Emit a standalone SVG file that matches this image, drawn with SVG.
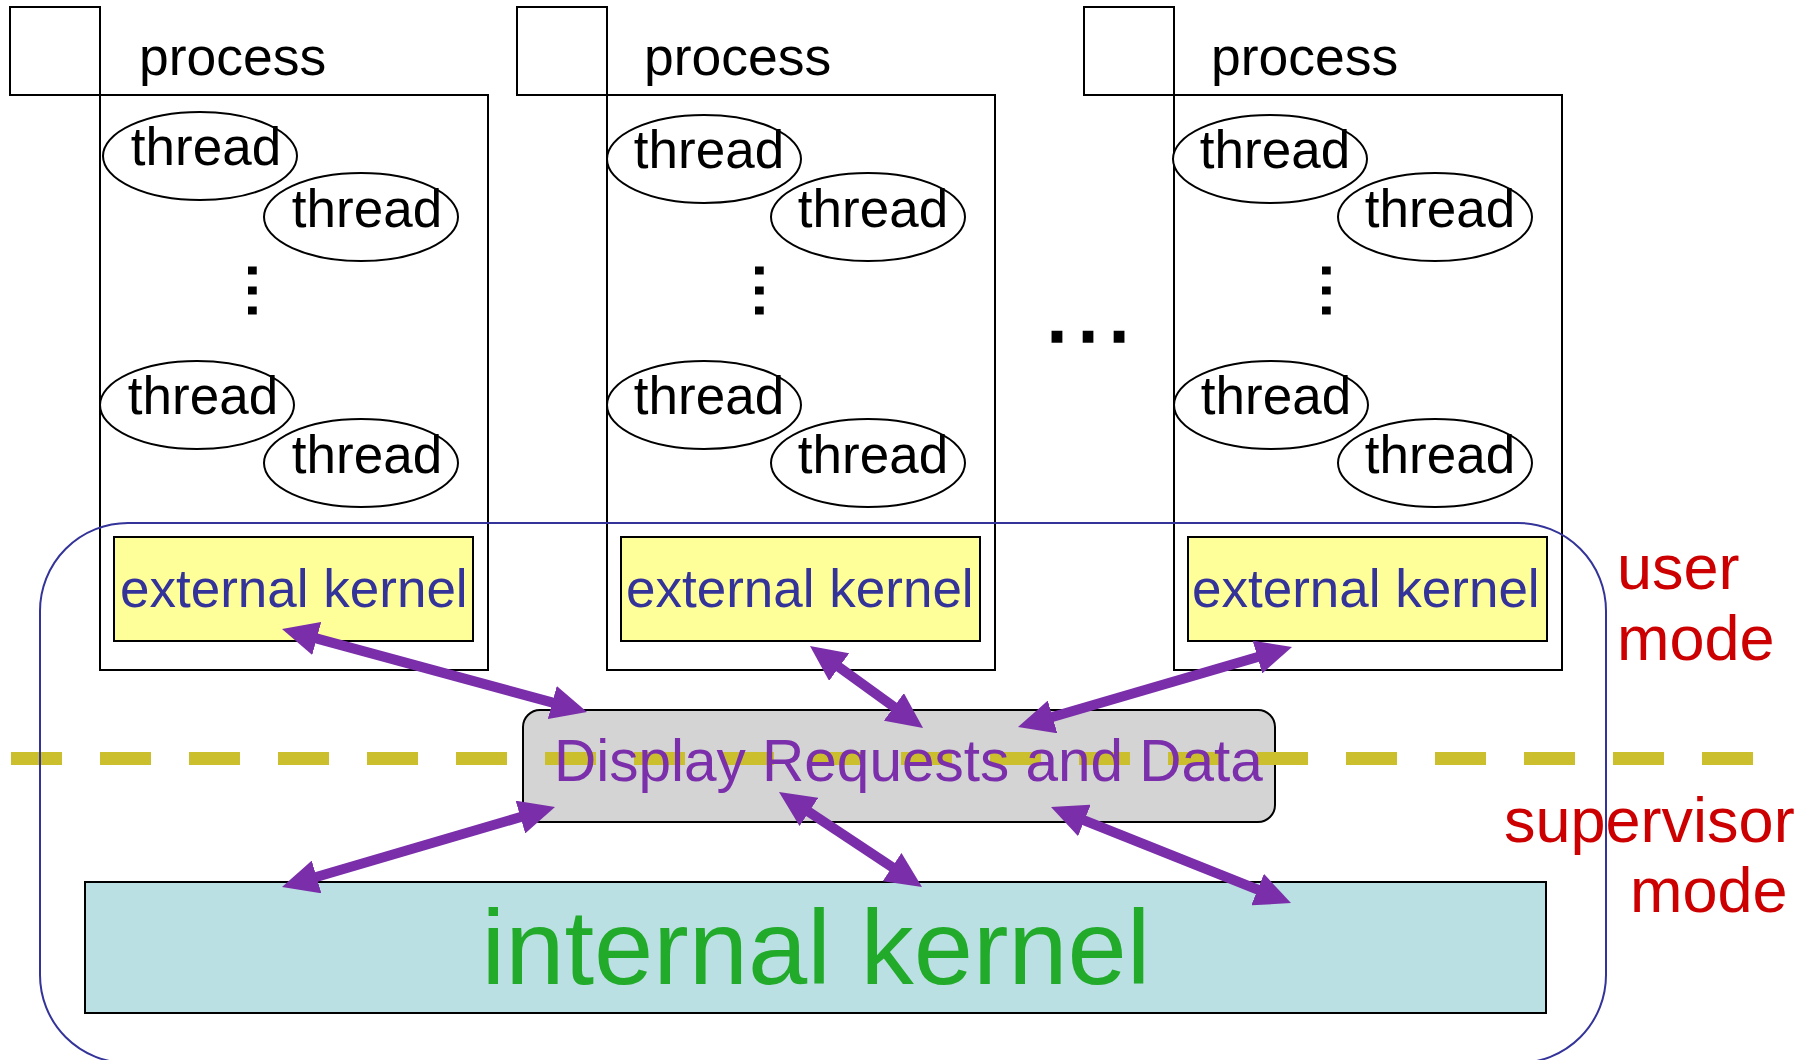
<svg xmlns="http://www.w3.org/2000/svg" width="1810" height="1060" viewBox="0 0 1810 1060">
  <style>
    text { font-family: "Liberation Sans", Arial, sans-serif; }
    .box { fill: #ffffff; stroke: #000000; stroke-width: 2; }
    .tab { fill: none; stroke: #000000; stroke-width: 2; }
    .thr { fill: #ffffff; stroke: #000000; stroke-width: 2; }
    .thr-t { font-size: 53px; fill: #000000; text-anchor: middle; }
    .proc-t { font-size: 53.5px; fill: #000000; }
    .ext { fill: #ffff99; stroke: #000000; stroke-width: 2; }
    .ext-t { font-size: 53px; fill: #333399; }
    .dots { font-size: 63px; fill: #000000; stroke: #000000; stroke-width: 2; }
    .mode-t { font-size: 63px; fill: #cc0000; }
    .conn { stroke: #7a2eaa; stroke-width: 10; fill: none; marker-start: url(#head); marker-end: url(#head); }
  </style>
  <defs>
    <marker id="head" viewBox="0 0 36 34" refX="11" refY="17" markerWidth="36" markerHeight="34" markerUnits="userSpaceOnUse" orient="auto-start-reverse">
      <path d="M0,0 L36,17 L0,34 z" fill="#7a2eaa"/>
    </marker>
  </defs>

  <rect width="1810" height="1060" fill="#ffffff"/>

  <!-- process 1 -->
  <g id="process1">
    <rect class="tab" x="10" y="7" width="90" height="88"/>
    <rect class="box" x="100" y="95" width="388" height="575"/>
    <text class="proc-t" x="139" y="75">process</text>
    <ellipse class="thr" cx="200" cy="156" rx="97" ry="44"/>
    <text class="thr-t" x="206" y="165">thread</text>
    <ellipse class="thr" cx="361" cy="217" rx="97" ry="44"/>
    <text class="thr-t" x="367" y="227">thread</text>
    <text class="dots" transform="translate(248,266) rotate(90)" x="-7" y="-1">…</text>
    <ellipse class="thr" cx="197" cy="405" rx="97" ry="44"/>
    <text class="thr-t" x="203" y="414">thread</text>
    <ellipse class="thr" cx="361" cy="463" rx="97" ry="44"/>
    <text class="thr-t" x="367" y="473">thread</text>
    <rect class="ext" x="114" y="537" width="359" height="104"/>
    <text class="ext-t" x="120" y="607">external kernel</text>
  </g>

  <!-- process 2 -->
  <g id="process2">
    <rect class="tab" x="517" y="7" width="90" height="88"/>
    <rect class="box" x="607" y="95" width="388" height="575"/>
    <text class="proc-t" x="644" y="75">process</text>
    <ellipse class="thr" cx="704" cy="159" rx="97" ry="44"/>
    <text class="thr-t" x="709" y="168">thread</text>
    <ellipse class="thr" cx="868" cy="217" rx="97" ry="44"/>
    <text class="thr-t" x="873" y="227">thread</text>
    <text class="dots" transform="translate(755,266) rotate(90)" x="-7" y="-1">…</text>
    <ellipse class="thr" cx="704" cy="405" rx="97" ry="44"/>
    <text class="thr-t" x="709" y="414">thread</text>
    <ellipse class="thr" cx="868" cy="463" rx="97" ry="44"/>
    <text class="thr-t" x="873" y="473">thread</text>
    <rect class="ext" x="621" y="537" width="359" height="104"/>
    <text class="ext-t" x="626" y="607">external kernel</text>
  </g>

  <!-- process 3 -->
  <g id="process3">
    <rect class="tab" x="1084" y="7" width="90" height="88"/>
    <rect class="box" x="1174" y="95" width="388" height="575"/>
    <text class="proc-t" x="1211" y="75">process</text>
    <ellipse class="thr" cx="1270" cy="159" rx="97" ry="44"/>
    <text class="thr-t" x="1275" y="168">thread</text>
    <ellipse class="thr" cx="1435" cy="217" rx="97" ry="44"/>
    <text class="thr-t" x="1440" y="227">thread</text>
    <text class="dots" transform="translate(1322,266) rotate(90)" x="-7" y="-1">…</text>
    <ellipse class="thr" cx="1271" cy="405" rx="97" ry="44"/>
    <text class="thr-t" x="1276" y="414">thread</text>
    <ellipse class="thr" cx="1435" cy="463" rx="97" ry="44"/>
    <text class="thr-t" x="1440" y="473">thread</text>
    <rect class="ext" x="1188" y="537" width="359" height="104"/>
    <text class="ext-t" x="1192" y="607">external kernel</text>
  </g>

  <!-- ellipsis between processes -->
  <g id="more-processes">
    <text x="1039" y="342" font-size="98" fill="#000000" stroke="#000000" stroke-width="1.5" font-family="Liberation Sans, Arial, sans-serif">…</text>
  </g>

  <!-- internal kernel -->
  <g id="internal-kernel">
    <rect x="85" y="882" width="1461" height="131" fill="#bbe0e3" stroke="#000000" stroke-width="2"/>
    <text x="816" y="984" font-size="106.5" fill="#22aa2a" text-anchor="middle">internal kernel</text>
  </g>

  <!-- display requests buffer -->
  <g id="display-requests">
    <rect x="523" y="710" width="752" height="112" rx="17" ry="17" fill="#d4d4d4" stroke="#000000" stroke-width="2"/>
  </g>

  <!-- user / supervisor boundary, drawn across the buffer -->
  <g id="mode-boundary">
    <line x1="11" y1="758.5" x2="1753" y2="758.5" stroke="#cbbf2d" stroke-width="13" stroke-dasharray="51 38"/>
  </g>

  <g id="display-requests-label">
    <text x="554" y="781" font-size="58.5" fill="#7b2fab">Display Requests and Data</text>
  </g>

  <!-- kernel outline -->
  <g id="kernel-outline">
    <rect x="40" y="523" width="1566" height="540" rx="88" ry="88" fill="none" stroke="#333399" stroke-width="2"/>
  </g>

  <!-- connectors -->
  <g id="connectors">
    <line class="conn" x1="306.1" y1="635.6" x2="562.9" y2="705.4"/>
    <line class="conn" x1="830.2" y1="660.7" x2="902.8" y2="713.3"/>
    <line class="conn" x1="1268" y1="654" x2="1042" y2="720"/>
    <line class="conn" x1="531" y1="814" x2="306" y2="880"/>
    <line class="conn" x1="799.8" y1="805.8" x2="901.2" y2="873.2"/>
    <line class="conn" x1="1074.2" y1="816.3" x2="1267.8" y2="893.7"/>
  </g>

  <!-- mode labels -->
  <g id="user-mode">
    <text class="mode-t" x="1617" y="589">user</text>
    <text class="mode-t" x="1617" y="660">mode</text>
  </g>
  <g id="supervisor-mode">
    <text class="mode-t" x="1504" y="842">supervisor</text>
    <text class="mode-t" x="1630" y="912">mode</text>
  </g>
</svg>
